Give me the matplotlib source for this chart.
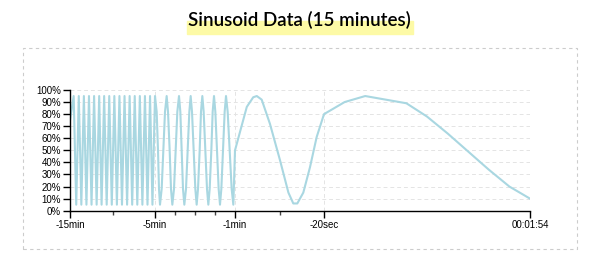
import numpy as np
import matplotlib
matplotlib.use("Agg")
import matplotlib.pyplot as plt
from matplotlib.patches import Rectangle

plt.rcParams['font.family'] = ['Liberation Sans', 'DejaVu Sans']

# seconds relative to now, and value in percent
# last 15 min -> 5 min
times_a = [-900, -874, -856, -838, -820, -802, -784, -766, -748, -730, -712,
           -694, -677, -659, -641, -623, -605, -587, -569, -551, -533, -515,
           -497, -479, -461, -443, -425, -407, -389, -371, -353, -335, -318]
values_a = [75, 95, 5, 95, 5, 95, 5, 95, 5, 95, 5,
            95, 5, 95, 5, 95, 5, 95, 5, 95, 5, 95,
            5, 95, 5, 95, 5, 95, 5, 95, 5, 95, 5]
# 5 min -> 1 min
times_b = [-300, -295, -291, -288, -285, -280, -275, -270, -265, -261, -256,
           -252, -248, -243, -238, -233, -228, -224, -220, -216, -212, -207,
           -202, -197, -193, -189, -184, -179, -175, -171, -166, -162, -158,
           -154, -149, -144, -140, -136, -131, -127, -123, -119, -114, -109,
           -105, -101, -96, -91, -87, -82, -76, -70, -65]
values_b = [95, 82, 50, 18, 5, 18, 50, 82, 95, 82, 50,
            18, 5, 18, 50, 82, 95, 82, 50, 18, 5, 18,
            50, 82, 95, 82, 50, 18, 5, 18, 50, 82, 95,
            82, 50, 18, 5, 18, 50, 82, 95, 82, 50, 18,
            5, 18, 50, 82, 95, 82, 50, 18, 5]
# 1 min -> 20 sec
times_c = [-60, -54.7, -51.8, -50.2, -48, -44.3, -39.8, -36, -33.8, -32,
           -29.3, -26.3, -23.3]
values_c = [50, 86, 94, 95, 92, 72, 42, 15, 6, 6, 15, 36, 61]
# last 20 sec
times_d = [-20, -18, -16, -12, -10, -8, -6, -4, -2, 0]
values_d = [80, 90, 95, 89, 78, 64, 49, 34, 20, 10]

tick_times = [-900, -300, -60, -20, 0]
tick_labels = ['-15min', '-5min', '-1min', '-20sec', '00:01:54']
minor_times = [-600, -240, -180, -120, -40]

# piecewise x scale: each range gets its own slice of the axis
seg_pos = [0, 85, 165, 254, 460]

def fwd(t):
    return np.interp(t, tick_times, seg_pos)

def inv(p):
    return np.interp(p, seg_pos, tick_times)

times = times_a + times_b + times_c + times_d
values = values_a + values_b + values_c + values_d

fig = plt.figure(figsize=(5.98, 2.62), dpi=100)
ax = fig.add_axes([70 / 598, 1 - 210.7 / 262, 460 / 598, 120.7 / 262])

ax.set_xscale('function', functions=(fwd, inv))
ax.plot(times, values, color='#a9d7e1', lw=1.5, solid_joinstyle='round')

ax.set_xlim(-900, 0)
ax.set_ylim(0, 100)
ax.set_xticks(tick_times)
ax.set_xticklabels(tick_labels)
ax.set_xticks(minor_times, minor=True)
ax.set_yticks(np.arange(0, 101, 10))
ax.set_yticklabels(['%d%%' % v for v in range(0, 101, 10)])

ax.grid(True, which='major', color='#e4e4e4', ls=(0, (4, 3)), lw=0.7)
ax.set_axisbelow(True)
for s in ['top', 'right']:
    ax.spines[s].set_visible(False)
for s in ['left', 'bottom']:
    ax.spines[s].set_linewidth(1)
    ax.spines[s].set_color('black')

ax.tick_params(axis='both', which='major', length=5, width=1, labelsize=7, pad=1.5, colors='black')
ax.tick_params(axis='x', which='minor', length=3, width=1, color='#444444')

# title with marker-like highlight
fig.patches.append(Rectangle((186.7 / 598, 1 - 33.5 / 262), 226 / 598, 12.5 / 262,
                             transform=fig.transFigure, color='#fdfaa6', zorder=0))
fig.text(0.5, 1 - 26 / 262, 'Sinusoid Data (15 minutes)', ha='center', va='baseline',
         fontsize=13.5, fontweight='semibold', family=['Lato', 'DejaVu Sans'], zorder=2)

# dashed frame around the chart
fig.patches.append(Rectangle((23.3 / 598, 1 - 249 / 262), 553.4 / 598, 200.7 / 262,
                             transform=fig.transFigure, fill=False, edgecolor='#cccccc',
                             ls=(0, (3, 3)), lw=0.8))

fig.savefig('out.png', dpi=100)
